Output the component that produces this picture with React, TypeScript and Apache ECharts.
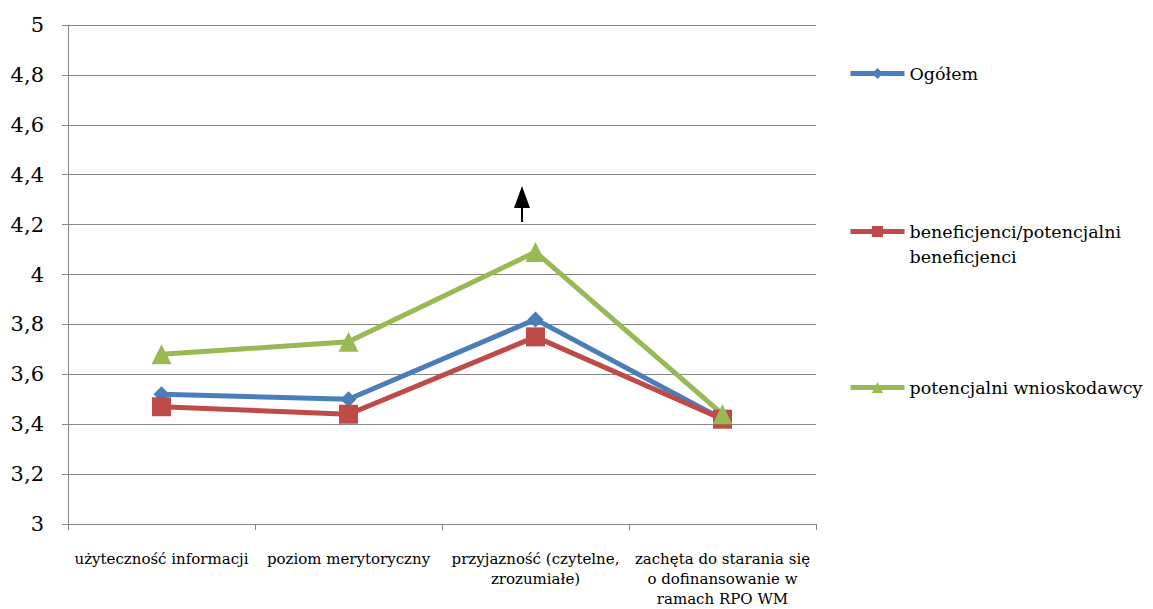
import React, { useEffect, useRef } from "react";
import * as echarts from "echarts";

const categories = [
  "użyteczność informacji",
  "poziom merytoryczny",
  "przyjazność (czytelne,\nzrozumiałe)",
  "zachęta do starania się\no dofinansowanie w\nramach RPO WM",
];
const ogolem = [3.52, 3.5, 3.82, 3.42];
const beneficjenci = [3.47, 3.44, 3.75, 3.42];
const wnioskodawcy = [3.68, 3.73, 4.09, 3.44];

const seriesNames = ["Ogółem", "beneficjenci/potencjalni beneficjenci", "potencjalni wnioskodawcy"];
const colors = ["#4A7EBB", "#BE4B48", "#98B954"];

const FONT = "'DejaVu Serif', serif";

export default function App() {
  const ref = useRef<HTMLDivElement>(null);

  useEffect(() => {
    if (!ref.current) return;
    const chart = echarts.init(ref.current, null, { renderer: "svg" });

    const legendBase = {
      orient: "vertical" as const,
      left: 848,
      padding: 0,
      itemWidth: 54,
      itemHeight: 14,
      itemGap: 4,
      lineStyle: { width: 5 },
      textStyle: { fontFamily: FONT, fontSize: 17.5, color: "#000", lineHeight: 25 },
    };

    chart.setOption({
      animation: false,
      backgroundColor: "#fff",
      grid: { left: 68, right: 337, top: 25, bottom: 82 },
      legend: [
        { ...legendBase, top: 61, data: [seriesNames[0]] },
        {
          ...legendBase,
          top: 194,
          data: [seriesNames[1]],
          // leading blank line keeps the first line level with the icon
          formatter: () => "\nbeneficjenci/potencjalni\nbeneficjenci",
        },
        { ...legendBase, top: 375, data: [seriesNames[2]] },
      ],
      xAxis: {
        type: "category",
        data: categories,
        boundaryGap: true,
        axisLine: { lineStyle: { color: "#868686", width: 1 } },
        axisTick: { show: true, length: 6, lineStyle: { color: "#868686" } },
        axisLabel: {
          interval: 0,
          fontFamily: FONT,
          fontSize: 15,
          color: "#000",
          margin: 25,
          lineHeight: 20,
          align: "center",
        },
      },
      yAxis: {
        type: "value",
        min: 3,
        max: 5,
        interval: 0.2,
        axisLine: { show: true, lineStyle: { color: "#868686", width: 1 } },
        axisTick: { show: true, length: 6, lineStyle: { color: "#868686" } },
        splitLine: { lineStyle: { color: "#868686", width: 1 } },
        axisLabel: {
          fontFamily: FONT,
          fontSize: 21,
          color: "#000",
          margin: 24,
          formatter: (v: number) => String(Math.round(v * 10) / 10).replace(".", ","),
        },
      },
      series: [
        {
          name: seriesNames[0],
          type: "line",
          data: ogolem,
          color: colors[0],
          symbol: "diamond",
          symbolSize: 16,
          lineStyle: { width: 5 },
        },
        {
          name: seriesNames[1],
          type: "line",
          data: beneficjenci,
          color: colors[1],
          symbol: "rect",
          symbolSize: 19,
          lineStyle: { width: 5 },
        },
        {
          name: seriesNames[2],
          type: "line",
          data: wnioskodawcy,
          color: colors[2],
          symbol: "triangle",
          symbolSize: 20,
          lineStyle: { width: 5 },
        },
      ],
      graphic: [
        {
          type: "group",
          left: 514,
          top: 186,
          children: [
            {
              type: "polygon",
              shape: { points: [[8, 0], [16, 22], [0, 22]] },
              style: { fill: "#000" },
            },
            {
              type: "line",
              shape: { x1: 8, y1: 20, x2: 8, y2: 36 },
              style: { stroke: "#000", lineWidth: 2 },
            },
          ],
        },
      ],
    });

    return () => chart.dispose();
  }, []);

  return (
    <div
      ref={ref}
      style={{ position: "absolute", left: 0, top: 0, width: 1153, height: 609 }}
    />
  );
}
